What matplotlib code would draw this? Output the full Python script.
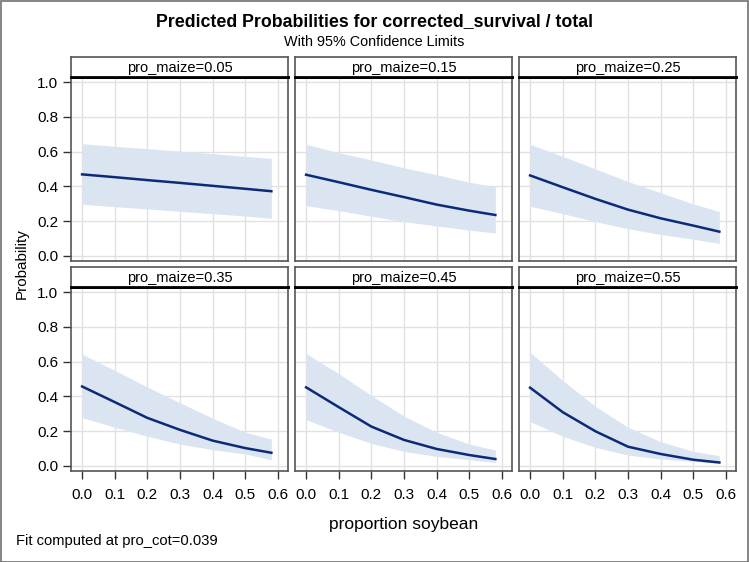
import matplotlib
matplotlib.use("Agg")
import matplotlib.pyplot as plt
from matplotlib.patches import Rectangle

plt.rcParams['font.family'] = ['Liberation Sans', 'DejaVu Sans']

title = "Predicted Probabilities for corrected_survival / total"
subtitle = "With 95% Confidence Limits"
xlabel = "proportion soybean"
ylabel = "Probability"
footnote = "Fit computed at pro_cot=0.039"

panel_labels = ["pro_maize=0.05", "pro_maize=0.15", "pro_maize=0.25",
                "pro_maize=0.35", "pro_maize=0.45", "pro_maize=0.55"]

soy = [0.0, 0.1, 0.2, 0.3, 0.4, 0.5, 0.58]

pred = [
    [0.469, 0.453, 0.436, 0.420, 0.403, 0.386, 0.372],
    [0.467, 0.424, 0.380, 0.338, 0.295, 0.260, 0.235],
    [0.463, 0.395, 0.328, 0.266, 0.216, 0.174, 0.139],
    [0.457, 0.367, 0.276, 0.207, 0.145, 0.102, 0.075],
    [0.452, 0.338, 0.226, 0.149, 0.097, 0.062, 0.039],
    [0.450, 0.309, 0.199, 0.110, 0.068, 0.035, 0.019],
]
upper = [
    [0.646, 0.631, 0.617, 0.603, 0.588, 0.573, 0.561],
    [0.642, 0.594, 0.552, 0.507, 0.467, 0.424, 0.397],
    [0.642, 0.573, 0.501, 0.428, 0.363, 0.299, 0.255],
    [0.643, 0.550, 0.454, 0.363, 0.274, 0.193, 0.154],
    [0.647, 0.531, 0.405, 0.286, 0.193, 0.125, 0.091],
    [0.653, 0.492, 0.342, 0.222, 0.139, 0.083, 0.058],
]
lower = [
    [0.297, 0.283, 0.270, 0.256, 0.243, 0.229, 0.216],
    [0.289, 0.260, 0.228, 0.197, 0.172, 0.148, 0.131],
    [0.285, 0.243, 0.197, 0.156, 0.123, 0.096, 0.071],
    [0.278, 0.222, 0.170, 0.125, 0.093, 0.068, 0.035],
    [0.266, 0.193, 0.129, 0.083, 0.054, 0.035, 0.019],
    [0.255, 0.170, 0.106, 0.062, 0.039, 0.025, 0.014],
]

xticks = [0.0, 0.1, 0.2, 0.3, 0.4, 0.5, 0.6]
yticks = [0.0, 0.2, 0.4, 0.6, 0.8, 1.0]

W, H = 749, 562
fig = plt.figure(figsize=(W / 100, H / 100), dpi=100)

fig.patches.append(Rectangle((0.5 / W, 0.5 / H), 1 - 1.5 / W, 1 - 1.5 / H, transform=fig.transFigure,
                             fill=False, edgecolor='#707070', linewidth=1.2))

col_left = [71, 295, 519]
col_w = 217
row_hdr_top = [57, 267]
hdr_h = 20
plot_h = 184

band_color = '#dbe5f2'
line_color = '#0b2b78'
border_color = '#555555'
grid_color = '#e1e1e1'

for i in range(6):
    r, c = divmod(i, 3)
    x0 = col_left[c]
    top = row_hdr_top[r] + hdr_h
    ax = fig.add_axes([x0 / W, 1 - (top + plot_h) / H, col_w / W, plot_h / H])
    ax.fill_between(soy, lower[i], upper[i], color=band_color, linewidth=0, zorder=2)
    ax.plot(soy, pred[i], color=line_color, linewidth=1.8, zorder=3)
    ax.set_xlim(-0.034, 0.631)
    ax.set_ylim(-0.03, 1.03)
    ax.set_xticks(xticks)
    ax.set_yticks(yticks)
    ax.grid(True, color=grid_color, linewidth=1.0, zorder=0)
    ax.set_axisbelow(True)
    for s in ax.spines.values():
        s.set_color(border_color)
        s.set_linewidth(1.2)
    ax.spines['top'].set_color('black')
    ax.spines['top'].set_linewidth(2.0)
    ax.tick_params(direction='out', length=6, width=1, color='#333333', labelsize=11, pad=3)
    if c == 0:
        ax.set_yticklabels([f"{v:.1f}" for v in yticks])
    else:
        ax.tick_params(axis='y', length=0, labelleft=False)
    if r == 1:
        ax.set_xticklabels([f"{v:.1f}" for v in xticks])
        ax.tick_params(axis='x', pad=6)
    else:
        ax.tick_params(axis='x', length=0, labelbottom=False)

    hax = fig.add_axes([x0 / W, 1 - top / H, col_w / W, hdr_h / H])
    hax.set_xticks([])
    hax.set_yticks([])
    for s in hax.spines.values():
        s.set_color(border_color)
        s.set_linewidth(1.2)
    hax.spines['bottom'].set_color('black')
    hax.spines['bottom'].set_linewidth(2.0)
    hax.text(0.5, 0.45, panel_labels[i], ha='center', va='center', fontsize=10.5,
             transform=hax.transAxes)

fig.text(0.5, 1 - 22 / H, title, ha='center', va='center', fontsize=12.8, fontweight='bold')
fig.text(0.5, 1 - 42 / H, subtitle, ha='center', va='center', fontsize=10.4)
fig.text((71 + 736) / 2 / W, 1 - 524 / H, xlabel, ha='center', va='center', fontsize=12.5)
fig.text(22 / W, 1 - 264 / H, ylabel, ha='center', va='center', fontsize=11, rotation=90)
fig.text(16 / W, 1 - 541 / H, footnote, ha='left', va='center', fontsize=10.6)

fig.savefig("out.png", dpi=100)
